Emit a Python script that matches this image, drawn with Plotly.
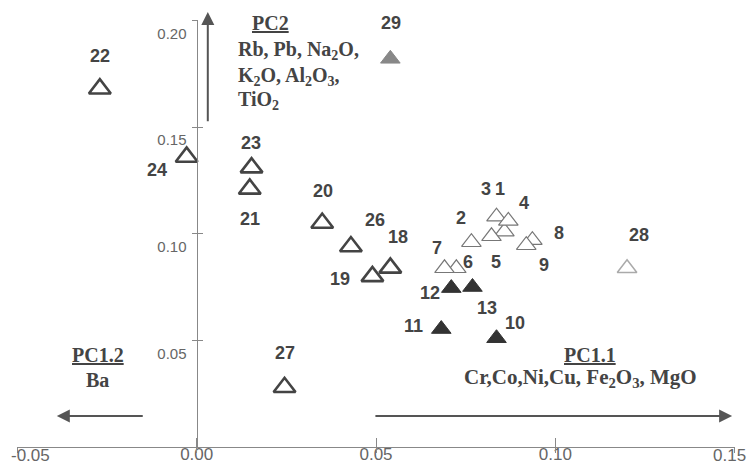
import plotly.graph_objects as go

# ---- data ----
open_ids = ["22", "24", "23", "21", "20", "26", "18", "19", "27"]
open_x = [-0.027, -0.0028, 0.0153, 0.0148, 0.035, 0.043, 0.054, 0.049, 0.0245]
open_y = [0.168, 0.136, 0.131, 0.121, 0.105, 0.094, 0.084, 0.080, 0.028]

light_ids = ["1", "2", "3", "4", "5", "6", "7", "8", "9"]
light_x = [0.0858, 0.0766, 0.0836, 0.0869, 0.0822, 0.0724, 0.0691, 0.0936, 0.0919]
light_y = [0.101, 0.096, 0.108, 0.106, 0.0988, 0.0838, 0.0838, 0.097, 0.0946]

dark_ids = ["10", "11", "12", "13"]
dark_x = [0.0836, 0.0682, 0.071, 0.0769]
dark_y = [0.051, 0.0553, 0.0745, 0.075]

gray_ids = ["29"]
gray_x = [0.054]
gray_y = [0.182]

pale_ids = ["28"]
pale_x = [0.120]
pale_y = [0.0838]

x_ticks = [-0.05, 0.0, 0.05, 0.10, 0.15]
x_ticktext = ["-0.05", "0.00", "0.05", "0.10", "0.15"]
y_ticks = [0.05, 0.10, 0.15, 0.20]
y_ticktext = ["0.05", "0.10", "0.15", "0.20"]

# label offsets in pixels (style): dx right, dy down
label_offset = {
    "22": (0, -33), "29": (1, -36), "24": (-30, 13), "23": (-1, -25),
    "21": (0, 30), "20": (1, -32), "26": (24, -27), "18": (8, -31),
    "19": (-32, 3), "27": (0, -34), "2": (-10, -24), "3": (-11, -28),
    "1": (-4, -43), "4": (16, -18), "5": (5, 26), "8": (27, -7),
    "9": (18, 20), "7": (-8, -20), "6": (12, -6), "12": (-21, 5),
    "13": (15, 21), "11": (-28, -3), "10": (18, -15), "28": (12, -33),
}

X_RANGE = [-0.0501, 0.1501]
Y_RANGE = [0, 0.2002]

tick_font_x = dict(family="Liberation Sans", size=17, color="#666")
tick_font_y = dict(family="Liberation Sans", size=15, color="#666")

fig = go.Figure()

def add(xs, ys, ids, symbol, size, color, lcolor, lw):
    fig.add_trace(go.Scatter(
        x=xs, y=ys, mode="markers", text=ids, hoverinfo="text",
        cliponaxis=False, showlegend=False,
        marker=dict(symbol=symbol, size=size, color=color,
                    line=dict(color=lcolor, width=lw)),
    ))

add(light_x, light_y, light_ids, "triangle-up", 17, "white", "#777", 1.2)
add(pale_x, pale_y, pale_ids, "triangle-up", 17, "white", "#aaa", 1.5)
add(open_x, open_y, open_ids, "triangle-up-open", 19, "#444", "#444", 2.6)
add(dark_x, dark_y, dark_ids, "triangle-up", 17, "#333", "#333", 1)
add(gray_x, gray_y, gray_ids, "triangle-up", 17, "#888", "#888", 1)

annotations = []
label_font = dict(family="Liberation Sans", size=18, color="#444")
for ids, xs, ys in [(open_ids, open_x, open_y), (light_ids, light_x, light_y),
                    (dark_ids, dark_x, dark_y), (gray_ids, gray_x, gray_y),
                    (pale_ids, pale_x, pale_y)]:
    for i, xv, yv in zip(ids, xs, ys):
        dx, dy = label_offset[i]
        annotations.append(dict(x=xv, y=yv, xref="x", yref="y", text="<b>%s</b>" % i,
                                showarrow=False, xshift=dx, yshift=-dy, font=label_font))

# direction arrows
arrow_style = dict(xref="x", yref="y", axref="x", ayref="y", showarrow=True, text=" ",
                   arrowhead=2, arrowsize=1.3, arrowwidth=2, arrowcolor="#555", standoff=0)
annotations.append(dict(x=0.0031, y=0.204, ax=0.0031, ay=0.148, **arrow_style))
annotations.append(dict(x=-0.039, y=0.0145, ax=-0.0142, ay=0.0145, **arrow_style))
annotations.append(dict(x=0.1493, y=0.0145, ax=0.049, ay=0.0145, **arrow_style))

def txt(x, y, s, xanchor="center", size=20):
    annotations.append(dict(x=x, y=y, xref="x", yref="y", text="<b>%s</b>" % s,
                            showarrow=False, xanchor=xanchor, yanchor="middle",
                            font=dict(family="Liberation Serif", size=size, color="#444")))

txt(0.0206, 0.199, "<u>PC2</u>")
txt(0.0109, 0.186, "Rb, Pb, Na<sub>2</sub>O,", "left")
txt(0.0109, 0.1738, "K<sub>2</sub>O, Al<sub>2</sub>O<sub>3</sub>,", "left")
txt(0.0109, 0.1625, "TiO<sub>2</sub>", "left")
txt(-0.0276, 0.0431, "<u>PC1.2</u>")
txt(-0.0276, 0.0314, "Ba")
txt(0.1097, 0.0431, "<u>PC1.1</u>")
txt(0.107, 0.0323, "Cr,Co,Ni,Cu, Fe<sub>2</sub>O<sub>3</sub>, MgO", size=21)

# the two edge tick labels are pulled inside the page in the reference
annotations.append(dict(x=x_ticks[0], y=0, xref="x", yref="paper", text=x_ticktext[0],
                        showarrow=False, xanchor="left", yanchor="middle",
                        xshift=-8, yshift=-8, font=tick_font_x))
annotations.append(dict(x=x_ticks[-1], y=0, xref="x", yref="paper", text=x_ticktext[-1],
                        showarrow=False, xanchor="right", yanchor="middle",
                        xshift=13, yshift=-8, font=tick_font_x))
x_ticktext_axis = [""] + x_ticktext[1:-1] + [""]

fig.update_layout(
    width=752, height=464,
    margin=dict(l=17, r=17, t=20, b=17),
    paper_bgcolor="white", plot_bgcolor="white",
    annotations=annotations,
    xaxis=dict(range=X_RANGE, tickvals=x_ticks, ticktext=x_ticktext_axis, automargin=False,
               showgrid=False, zeroline=False, showline=True, linecolor="#888",
               linewidth=1, ticks="inside", ticklen=9, tickcolor="#888",
               tickfont=tick_font_x, ticklabelstandoff=-8, ticklabeloverflow="allow"),
    xaxis2=dict(range=X_RANGE, overlaying="x", anchor="y", side="bottom", automargin=False,
                tickvals=x_ticks, showticklabels=False, showgrid=False, zeroline=False,
                ticks="outside", ticklen=5, tickcolor="#888"),
    yaxis=dict(range=Y_RANGE, tickvals=y_ticks, ticktext=y_ticktext, automargin=False,
               anchor="free", position=0.25, showgrid=False, zeroline=False,
               showline=True, linecolor="#888", linewidth=1,
               ticks="outside", ticklen=5, tickcolor="#888",
               tickfont=tick_font_y, ticklabelshift=13, ticklabelstandoff=2),
    yaxis2=dict(range=Y_RANGE, overlaying="y", anchor="free", position=0.25, automargin=False,
                tickvals=y_ticks, showticklabels=False, showgrid=False, zeroline=False,
                ticks="inside", ticklen=5, tickcolor="#888", side="left"),
)
fig.add_trace(go.Scatter(x=[None], y=[None], xaxis="x2", yaxis="y2", showlegend=False))

fig.write_html("out.html", config={"displayModeBar": False},
               post_script="document.body.style.margin='0';document.body.style.overflow='hidden';")
